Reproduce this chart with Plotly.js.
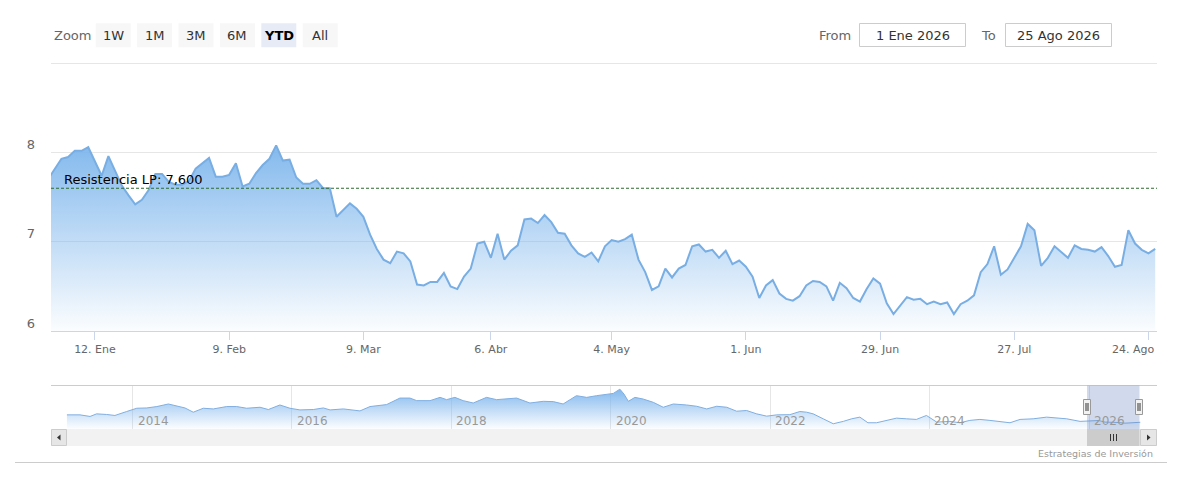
<!DOCTYPE html>
<html>
<head>
<meta charset="utf-8">
<script src="https://cdn.plot.ly/plotly-3.0.1.min.js"></script>
<style>
html,body{margin:0;padding:0;background:#ffffff;}
#chart{width:1201px;height:487px;}
</style>
</head>
<body>
<div id="chart"></div>
<script>
// ---------------- DATA ----------------
const firstDay = '2025-12-31';
const lastDay = '2026-08-25';
const marketHolidays = ['2026-01-01', '2026-04-03', '2026-04-06', '2026-05-01'];

const closeDec = [7.70];
const closeJan = [7.82, 7.93, 7.95, 8.02, 8.02, 8.06, 7.90, 7.74, 7.96, 7.80,
                  7.63, 7.52, 7.42, 7.47, 7.58, 7.76, 7.76, 7.67, 7.64, 7.64, 7.68];
const closeFeb = [7.82, 7.88, 7.94, 7.73, 7.73, 7.75, 7.88, 7.62, 7.65, 7.77,
                  7.86, 7.93, 8.08, 7.91, 7.92, 7.72, 7.65, 7.65, 7.69, 7.60];
const closeMar = [7.60, 7.28, 7.35, 7.43, 7.37, 7.28, 7.08, 6.92, 6.80, 6.76, 6.89,
                  6.87, 6.78, 6.52, 6.51, 6.55, 6.55, 6.65, 6.50, 6.47, 6.61, 6.70];
const closeApr = [6.98, 7.00, 6.82, 7.09, 6.80, 6.90, 6.96, 7.25, 7.26, 7.21,
                  7.30, 7.22, 7.10, 7.09, 6.96, 6.87, 6.83, 6.88, 6.78, 6.95];
const closeMay = [7.02, 7.00, 7.03, 7.08, 6.80, 6.66, 6.46, 6.50, 6.70, 6.60,
                  6.70, 6.74, 6.95, 6.97, 6.89, 6.91, 6.82, 6.90, 6.75, 6.79];
const closeJun = [6.72, 6.61, 6.37, 6.51, 6.57, 6.42, 6.36, 6.34, 6.39, 6.51, 6.56,
                  6.55, 6.50, 6.34, 6.54, 6.48, 6.37, 6.33, 6.47, 6.59, 6.53, 6.31];
const closeJul = [6.19, 6.29, 6.38, 6.35, 6.36, 6.30, 6.33, 6.30, 6.32, 6.19, 6.30, 6.34,
                  6.40, 6.66, 6.75, 6.95, 6.63, 6.69, 6.82, 6.95, 7.20, 7.13, 6.73];
const closeAug = [6.82, 6.95, 6.88, 6.82, 6.96, 6.92, 6.91, 6.89, 6.94,
                  6.84, 6.72, 6.74, 7.13, 6.98, 6.91, 6.87, 6.92];

const tickDates  = ['2026-01-12', '2026-02-09', '2026-03-09', '2026-04-07', '2026-05-04',
                    '2026-06-01', '2026-06-29', '2026-07-27', '2026-08-24'];
const tickLabels = ['12. Ene', '9. Feb', '9. Mar', '6. Abr', '4. May',
                    '1. Jun', '29. Jun', '27. Jul', '24. Ago'];
const yTickValues = [6, 7, 8, 9];
const yTickLabels = ['6', '7', '8', ''];

const resistanceLevel = 7.6;
const resistanceLabel = 'Resistencia LP: 7,600';

const navDates = [
 '2013-03-05','2013-05-05','2013-06-20','2013-07-20','2013-09-04','2013-10-12','2013-12-05',
 '2014-01-20','2014-03-07','2014-04-22','2014-06-14','2014-07-22','2014-08-29','2014-10-06','2014-11-21',
 '2015-01-06','2015-03-08','2015-04-23','2015-06-08','2015-08-08','2015-09-15','2015-11-07','2015-12-23',
 '2016-02-07','2016-04-08','2016-05-24','2016-06-24','2016-08-24','2016-11-08','2016-12-24',
 '2017-03-10','2017-05-10','2017-06-25','2017-07-26','2017-09-25','2017-11-10','2017-12-10',
 '2018-01-17','2018-02-24','2018-04-11','2018-06-11','2018-07-27','2018-09-11','2018-10-27','2018-12-27',
 '2019-02-26','2019-04-13','2019-05-28','2019-07-28','2019-09-13','2019-10-28','2019-12-13',
 '2020-01-13','2020-02-12','2020-03-02','2020-03-22','2020-04-21','2020-05-29','2020-07-14','2020-08-29','2020-10-14','2020-12-14',
 '2021-01-29','2021-03-16','2021-05-01','2021-06-16','2021-07-31','2021-09-15','2021-10-31','2021-12-16',
 '2022-01-31','2022-04-01','2022-05-17','2022-06-17','2022-07-17','2022-09-01','2022-10-17','2022-12-02',
 '2023-01-09','2023-02-16','2023-03-25','2023-05-03','2023-06-18','2023-08-03','2023-09-18','2023-11-02','2023-12-18',
 '2024-02-03','2024-04-04','2024-05-19','2024-07-04','2024-08-19','2024-10-04','2024-11-19',
 '2025-01-04','2025-02-19','2025-04-20','2025-06-21','2025-08-06','2025-09-21','2025-11-21',
 '2026-01-15','2026-02-15','2026-03-15','2026-04-15','2026-05-15','2026-06-15','2026-07-15','2026-08-25'
];
const navValues = [
 10.65,10.65,9.85,11.15,10.85,10.35,12.35,
 14.0,14.15,14.85,16.15,15.0,14.15,12.0,14.0,
 13.65,14.85,14.85,14.0,14.5,13.35,15.65,14.0,
 13.15,13.35,14.15,13.15,13.65,12.65,14.85,
 15.85,19.15,19.15,17.85,17.85,19.5,18.35,
 19.5,17.85,16.65,19.5,18.35,18.65,19.15,16.65,
 17.5,17.35,16.15,20.35,19.5,20.35,21.15,
 21.5,23.65,21.15,17.5,19.5,18.65,17.0,14.5,16.15,15.65,
 15.0,13.65,15.0,14.5,12.5,12.85,11.15,10.0,
 10.65,10.75,12.35,12.0,11.15,8.65,6.15,7.35,
 8.65,9.5,6.65,6.65,7.85,9.0,8.65,8.35,10.35,
 7.0,7.35,6.65,7.85,8.35,7.85,7.35,
 6.65,8.35,8.65,9.5,9.0,8.65,7.35,
 7.8,7.8,7.0,7.0,6.8,6.45,6.5,6.9
];
const navYears = ['2014', '2016', '2018', '2020', '2022', '2024', '2026'];

const zoomButtons = ['1W', '1M', '3M', '6M', 'YTD', 'All'];
const selectedButton = 'YTD';
const fromDate = '1 Ene 2026';
const toDate = '25 Ago 2026';
const creditsText = 'Estrategias de Inversión';

// ---------------- BUILD ----------------
function tradingDays(a, b, skip) {
  const out = [];
  let d = new Date(a + 'T00:00:00Z');
  const e = new Date(b + 'T00:00:00Z');
  while (d <= e) {
    const wd = d.getUTCDay();
    const s = d.toISOString().slice(0, 10);
    if (wd !== 0 && wd !== 6 && skip.indexOf(s) < 0) out.push(s);
    d = new Date(d.getTime() + 86400000);
  }
  return out;
}
const tradeDates = tradingDays(firstDay, lastDay, marketHolidays);
const closeValues = [].concat(closeDec, closeJan, closeFeb, closeMar, closeApr,
                              closeMay, closeJun, closeJul, closeAug);

const W = 1201, H = 487;
const px = x => x / W;
const py = y => 1 - y / H;
const FONT = 'DejaVu Sans';

function rectPx(x0, y0, x1, y1, fill, lineColor, lineWidth) {
  return {type: 'rect', xref: 'paper', yref: 'paper',
          x0: px(x0), x1: px(x1), y0: py(y1), y1: py(y0),
          fillcolor: fill, line: {color: lineColor || 'rgba(0,0,0,0)', width: lineColor ? (lineWidth || 1) : 0}};
}
function linePx(x0, y0, x1, y1, color, width, dash) {
  return {type: 'line', xref: 'paper', yref: 'paper',
          x0: px(x0), x1: px(x1), y0: py(y0), y1: py(y1),
          line: {color: color, width: width || 1, dash: dash || 'solid'}};
}
function pathPx(points, fill) {
  const d = 'M ' + points.map(p => px(p[0]) + ',' + py(p[1])).join(' L ') + ' Z';
  return {type: 'path', xref: 'paper', yref: 'paper', path: d,
          fillcolor: fill, line: {color: fill, width: 0}};
}
function textPx(x, y, text, opts) {
  opts = opts || {};
  return {xref: 'paper', yref: 'paper', x: px(x), y: py(y), text: text, showarrow: false,
          xanchor: opts.xanchor || 'left', yanchor: 'middle',
          font: {family: opts.family || FONT, size: opts.size || 13, color: opts.color || '#333333'}};
}

const shapes = [];
const annotations = [];

// range selector
annotations.push(textPx(52, 35, 'Zoom', {color: '#666666'}));
zoomButtons.forEach((b, i) => {
  const x0 = 95.7 + i * 41.4;
  const sel = b === selectedButton;
  shapes.push(rectPx(x0, 23.3, x0 + 35, 47.3, sel ? '#e6ebf5' : '#f7f7f7'));
  annotations.push(textPx(x0 + 17.5, 35, sel ? '<b>' + b + '</b>' : b,
                   {xanchor: 'center', color: sel ? '#000000' : '#333333'}));
});
// date inputs
annotations.push(textPx(817, 35, 'From', {color: '#666666'}));
shapes.push(rectPx(859.5, 23.5, 965.5, 46.5, '#ffffff', '#cccccc', 1));
annotations.push(textPx(912.5, 35, fromDate, {xanchor: 'center'}));
annotations.push(textPx(979, 35, 'To', {color: '#666666'}));
shapes.push(rectPx(1005.5, 23.5, 1111.5, 46.5, '#ffffff', '#cccccc', 1));
annotations.push(textPx(1058.5, 35, toDate, {xanchor: 'center'}));

// resistance line
shapes.push({type: 'line', xref: 'paper', yref: 'y', x0: px(51), x1: px(1157),
             y0: resistanceLevel, y1: resistanceLevel,
             line: {color: '#2f6b2f', width: 1, dash: '3px,2px'}});
annotations.push(textPx(62, 180, resistanceLabel, {color: '#000000'}));

// last x tick label is justified inside the chart edge (as in the original)
const tickText = tickLabels.slice(0, -1).concat(['']);
annotations.push({xref: 'paper', yref: 'paper', x: px(1156), y: py(349.5),
                  text: tickLabels[tickLabels.length - 1], showarrow: false,
                  xanchor: 'right', yanchor: 'middle',
                  font: {family: FONT, size: 11, color: '#666666'}});

// navigator decorations
shapes.push(linePx(51, 385.5, 1157, 385.5, '#cccccc', 1));
shapes.push(rectPx(1087, 385.5, 1139.5, 429, 'rgba(102,133,194,0.3)'));
// scrollbar
shapes.push(rectPx(51, 429, 1157, 446, '#f2f2f2'));
shapes.push(rectPx(51.5, 429.5, 66.5, 445.5, '#e6e6e6', '#cccccc', 1));
shapes.push(rectPx(1140.5, 429.5, 1156.5, 445.5, '#e6e6e6', '#cccccc', 1));
shapes.push(pathPx([[60.5, 434.5], [57, 437.5], [60.5, 440.5]], '#333333'));
shapes.push(pathPx([[1147, 434.5], [1150.5, 437.5], [1147, 440.5]], '#333333'));
shapes.push(rectPx(1087, 429, 1139.5, 446, '#cccccc'));
[1110.5, 1113.5, 1116.5].forEach(x => shapes.push(linePx(x, 434, x, 441, '#333333', 1)));
// handles
[1087, 1139].forEach(cx => {
  shapes.push(rectPx(cx - 3.5, 399.5, cx + 3.5, 414.5, '#f2f2f2', '#999999', 1));
  shapes.push(linePx(cx - 1, 403, cx - 1, 411, '#333333', 1));
  shapes.push(linePx(cx + 1, 403, cx + 1, 411, '#333333', 1));
});
navYears.forEach(yr => {
  annotations.push({xref: 'x2', yref: 'paper', x: yr + '-01-01', y: py(420.5), text: yr,
                    showarrow: false, xanchor: 'left', yanchor: 'middle', xshift: 3,
                    font: {family: FONT, size: 12, color: '#999999'}});
});
// bottom line and credits
shapes.push(linePx(15, 462.5, 1167, 462.5, '#cccccc', 1));
annotations.push(textPx(1155, 453.5, creditsText, {xanchor: 'right', size: 9.5, color: '#999999'}));

const traces = [
  {type: 'scatter', mode: 'lines', x: tradeDates, y: closeValues, xaxis: 'x', yaxis: 'y',
   line: {color: '#78aee3', width: 2}, fill: 'tozeroy',
   fillgradient: {type: 'vertical', start: 6, stop: 8.1,
                  colorscale: [[0, 'rgba(124,181,236,0.03)'], [1, 'rgba(124,181,236,0.95)']]},
   hoverinfo: 'skip'},
  {type: 'scatter', mode: 'lines', x: navDates, y: navValues, xaxis: 'x2', yaxis: 'y2',
   line: {color: '#80aee0', width: 1}, fill: 'tozeroy',
   fillgradient: {type: 'vertical', start: 3.5, stop: 23.5,
                  colorscale: [[0, 'rgba(124,181,236,0.02)'], [1, 'rgba(124,181,236,0.95)']]},
   hoverinfo: 'skip'}
];

const layout = {
  width: W, height: H,
  margin: {l: 0, r: 0, t: 0, b: 0},
  paper_bgcolor: '#ffffff', plot_bgcolor: 'rgba(0,0,0,0)',
  showlegend: false,
  xaxis: {domain: [px(51), px(1157)], anchor: 'y', type: 'category',
          categoryorder: 'array', categoryarray: tradeDates,
          range: [0.447, 165.27], tickvals: tickDates, ticktext: tickText,
          showgrid: false, showline: true, linecolor: '#ccd6eb', linewidth: 1,
          ticks: 'outside', ticklen: 8, tickcolor: '#ccd6eb', tickwidth: 1,
          tickfont: {family: FONT, size: 11, color: '#666666'}, zeroline: false, fixedrange: true},
  yaxis: {domain: [py(331), py(62)], anchor: 'x', range: [6, 9.015],
          tickvals: yTickValues, ticktext: yTickLabels,
          showgrid: true, gridcolor: '#e6e6e6', gridwidth: 1, zeroline: false, showline: false,
          ticks: '', ticklabelstandoff: 15, ticklabelshift: -8,
          tickfont: {family: FONT, size: 13, color: '#666666'}, fixedrange: true},
  xaxis2: {domain: [px(66.7), px(1140.5)], anchor: 'y2', type: 'date',
           range: ['2013-03-05', '2026-08-25'], tick0: '2014-01-01', dtick: 'M24',
           showgrid: true, gridcolor: '#e6e6e6', showticklabels: false, ticks: '',
           zeroline: false, showline: false, fixedrange: true},
  yaxis2: {domain: [py(429), py(385.5)], anchor: 'x2', range: [3.5, 25.5],
           showgrid: false, showticklabels: false, zeroline: false, ticks: '', fixedrange: true},
  shapes: shapes,
  annotations: annotations
};

Plotly.newPlot('chart', traces, layout, {displayModeBar: false, staticPlot: true});
</script>
</body>
</html>
